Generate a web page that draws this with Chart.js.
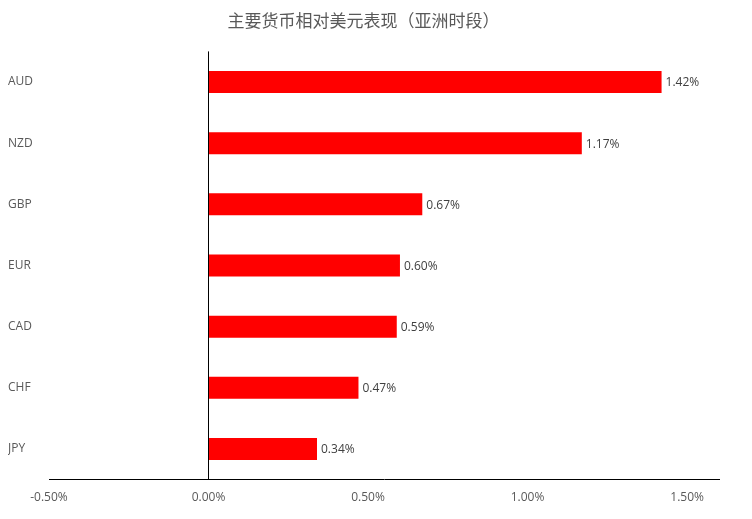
<!DOCTYPE html>
<html><head><meta charset="utf-8">
<script src="https://cdn.jsdelivr.net/npm/chart.js@4.4.1/dist/chart.umd.min.js"></script>
<style>html,body{margin:0;padding:0;background:#fff;}#wrap{width:752px;height:519px;}</style>
</head><body><div id="wrap"><canvas id="c" width="752" height="519"></canvas></div>
<script>
const titleText = '主要货币相对美元表现（亚洲时段）';
const categories = ['AUD','NZD','GBP','EUR','CAD','CHF','JPY'];
const values = [1.42, 1.17, 0.67, 0.60, 0.59, 0.47, 0.34];
const xMin = -0.5, xMax = 1.6, xStep = 0.5;

const FONT = "'Open Sans','Noto Sans',sans-serif";

const valueLabels = {
  id: 'valueLabels',
  afterDatasetsDraw(chart) {
    const ctx = chart.ctx;
    const meta = chart.getDatasetMeta(0);
    ctx.save();
    ctx.font = "12px " + FONT;
    ctx.fillStyle = '#404040';
    ctx.textAlign = 'left';
    ctx.textBaseline = 'middle';
    meta.data.forEach((el, i) => {
      const v = chart.data.datasets[0].data[i];
      ctx.fillText(v.toFixed(2) + '%', el.x + 4, el.y + 1);
    });
    ctx.restore();
  }
};

new Chart(document.getElementById('c'), {
  type: 'bar',
  data: {
    labels: categories,
    datasets: [{
      data: values,
      backgroundColor: '#FF0000',
      borderWidth: 0,
      barPercentage: 0.36,
      categoryPercentage: 1.0
    }]
  },
  options: {
    indexAxis: 'y',
    responsive: false,
    animation: false,
    devicePixelRatio: 1,
    layout: { padding: { left: 8, right: 33, bottom: 3, top: 0 } },
    plugins: {
      legend: { display: false },
      tooltip: { enabled: false },
      title: {
        display: true,
        text: titleText,
        color: '#595959',
        font: { family: "'Noto Sans CJK SC',serif", size: 17, weight: 'normal' },
        padding: { top: 10, bottom: 21 }
      }
    },
    scales: {
      x: {
        type: 'linear',
        min: xMin,
        max: xMax,
        border: { display: true, color: '#000000', width: 1 },
        grid: {
          drawTicks: false,
          color: (c) => (c.tick && c.tick.value === 0) ? '#000000' : 'rgba(0,0,0,0)',
          lineWidth: 1
        },
        ticks: {
          stepSize: xStep,
          includeBounds: false,
          padding: 11,
          color: '#595959',
          font: { family: FONT, size: 12 },
          callback: (v) => Number(v).toFixed(2) + '%'
        }
      },
      y: {
        border: { display: false },
        grid: { display: false, drawTicks: false },
        afterFit: (s) => { s.width = 41; },
        ticks: {
          crossAlign: 'far',
          color: '#595959',
          padding: 0,
          font: { family: FONT, size: 12 }
        }
      }
    }
  },
  plugins: [valueLabels]
});
</script>
</body></html>
